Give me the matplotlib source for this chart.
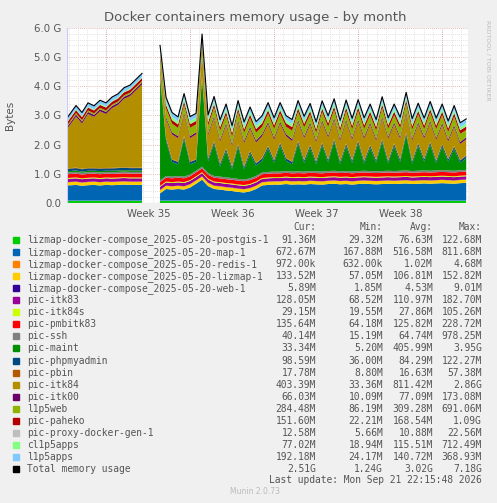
import numpy as np
import matplotlib
matplotlib.use('Agg')
import matplotlib.pyplot as plt

nan = np.nan
# half-day bins, value in G
map1 = [0.52, 0.54, 0.51, 0.53, 0.54, 0.52, 0.54, 0.53, 0.54, 0.55, 0.54, 0.54, 0.54, nan, nan,
        0.25, 0.40, 0.38, 0.40, 0.38, 0.45, 0.58, 0.72, 0.50, 0.40, 0.38, 0.35, 0.33, 0.30, 0.28, 0.32,
        0.40, 0.52, 0.54, 0.55, 0.55, 0.57, 0.55, 0.56, 0.55, 0.57, 0.56, 0.55, 0.57, 0.58, 0.56, 0.57,
        0.55, 0.57, 0.58, 0.57, 0.56, 0.57, 0.58, 0.57, 0.58, 0.59, 0.57, 0.58, 0.59, 0.58, 0.59, 0.60,
        0.59, 0.58, 0.60, 0.61]
maint = [0.04, 0.05, 0.04, 0.05, 0.04, 0.05, 0.04, 0.05, 0.05, 0.05, 0.05, 0.05, 0.05, nan, nan,
         3.50, 1.20, 0.50, 0.40, 1.30, 0.35, 0.30, 3.00, 0.40, 1.10, 0.35, 0.90, 0.30, 1.10, 0.35, 0.85,
         0.35, 0.40, 0.80, 0.30, 0.90, 0.35, 0.25, 0.95, 0.30, 0.80, 0.25, 0.90, 0.30, 1.00, 0.25, 0.85,
         0.30, 0.95, 0.25, 0.80, 0.30, 1.00, 0.25, 0.85, 0.30, 1.20, 0.25, 0.85, 0.30, 0.90, 0.25, 0.80,
         0.30, 0.75, 0.25, 0.40]
itk84 = [1.35, 1.75, 1.55, 1.85, 1.75, 1.95, 1.85, 2.05, 2.15, 2.35, 2.45, 2.65, 2.85, nan, nan,
         0.30, 0.65, 0.85, 0.80, 0.75, 0.80, 0.85, 0.70, 0.80, 0.80, 0.75, 0.80, 0.70, 0.75, 0.80, 0.75,
         0.70, 0.75, 0.75, 0.70, 0.65, 0.75, 0.70, 0.65, 0.75, 0.70, 0.65, 0.70, 0.75, 0.65, 0.70, 0.75,
         0.70, 0.65, 0.75, 0.70, 0.65, 0.70, 0.75, 0.65, 0.70, 0.65, 0.70, 0.65, 0.70, 0.65, 0.70, 0.65,
         0.60, 0.65, 0.55, 0.55]
l1p5web = [0.05] * 13 + [nan, nan] + [0.28, 0.30, 0.30, 0.28, 0.25, 0.29, 0.27, 0.30, 0.25, 0.28,
           0.30, 0.27, 0.25, 0.29, 0.28, 0.30, 0.27, 0.25, 0.28, 0.30, 0.27, 0.25, 0.29, 0.28, 0.30,
           0.27, 0.25, 0.28, 0.30, 0.27, 0.25, 0.29, 0.28, 0.30, 0.27, 0.25, 0.28, 0.30, 0.27, 0.25,
           0.29, 0.28, 0.30, 0.27, 0.25, 0.28, 0.30, 0.27, 0.25, 0.29, 0.28, 0.25]
paheko = [0.10] * 13 + [nan, nan] + [0.12] * 52
cl1p5apps = [0.03] * 13 + [nan, nan] + [0.10] * 52
l1p5apps = [0.12] * 13 + [nan, nan] + [0.15] * 52
small = {  # roughly constant layers, G
    'postgis': 0.08, 'redis': 0.001, 'lizmap': 0.11, 'web': 0.005, 'itk83': 0.11,
    'itk84s': 0.03, 'pmbitk83': 0.13, 'ssh': 0.06, 'phpmyadmin': 0.08, 'pbin': 0.017,
    'itk00': 0.07, 'proxy': 0.01,
}

names = ['lizmap-docker-compose_2025-05-20-postgis-1', 'lizmap-docker-compose_2025-05-20-map-1',
         'lizmap-docker-compose_2025-05-20-redis-1', 'lizmap-docker-compose_2025-05-20-lizmap-1',
         'lizmap-docker-compose_2025-05-20-web-1', 'pic-itk83', 'pic-itk84s', 'pic-pmbitk83', 'pic-ssh',
         'pic-maint', 'pic-phpmyadmin', 'pic-pbin', 'pic-itk84', 'pic-itk00', 'l1p5web', 'pic-paheko',
         'pic-proxy-docker-gen-1', 'cl1p5apps', 'l1p5apps', 'Total memory usage']
colors = ['#00CC00', '#0066B3', '#FF8000', '#FFCC00', '#330099', '#990099', '#CCFF00', '#FF0000',
          '#808080', '#008F00', '#00487D', '#B35A00', '#B38F00', '#6B006B', '#8FB300', '#B30000',
          '#BEBEBE', '#80FF80', '#80C9FF', '#000000']
cur = ['91.36M', '672.67M', '972.00k', '133.52M', '5.89M', '128.05M', '29.15M', '135.64M', '40.14M',
       '33.34M', '98.59M', '17.78M', '403.39M', '66.03M', '284.48M', '151.60M', '12.58M', '77.02M',
       '192.18M', '2.51G']
mins = ['29.32M', '167.88M', '632.00k', '57.05M', '1.85M', '68.52M', '19.55M', '64.18M', '15.19M',
        '5.20M', '36.00M', '8.80M', '33.36M', '10.09M', '86.19M', '22.21M', '5.66M', '18.94M',
        '24.17M', '1.24G']
avgs = ['76.63M', '516.58M', '1.02M', '106.81M', '4.53M', '110.97M', '27.86M', '125.82M', '64.74M',
        '405.99M', '84.29M', '16.63M', '811.42M', '77.09M', '309.28M', '168.54M', '10.88M', '115.51M',
        '140.72M', '3.02G']
maxs = ['122.68M', '811.68M', '4.68M', '152.82M', '9.01M', '182.70M', '105.26M', '228.72M', '978.25M',
        '3.95G', '122.27M', '57.38M', '2.86G', '173.08M', '691.06M', '1.09G', '22.56M', '712.49M',
        '368.93M', '7.18G']

N = len(map1)
mask = np.isnan(np.array(map1))
def c(v):
    a = np.full(N, v, dtype=float)
    a[mask] = nan
    return a
layers = [c(small['postgis']), np.array(map1), c(small['redis']), c(small['lizmap']), c(small['web']),
          c(small['itk83']), c(small['itk84s']), c(small['pmbitk83']), c(small['ssh']), np.array(maint),
          c(small['phpmyadmin']), c(small['pbin']), np.array(itk84), c(small['itk00']),
          np.array(l1p5web), np.array(paheko), c(small['proxy']), np.array(cl1p5apps), np.array(l1p5apps)]
t = np.arange(N) * 0.5 + 0.25
t[0] = 0.0
days_span = 33.4

fig = plt.figure(figsize=(4.97, 5.03), dpi=100, facecolor='#F0F0F0')
ax = fig.add_axes([67/497, 1 - 203/503, 401/497, 175/503], facecolor='white')

# grid
for y in np.arange(0.2, 6.01, 0.2):
    major = abs(y - round(y)) < 1e-6
    ax.axhline(y, color='#E0A0A0' if major else '#D8D8D8', lw=0.6, ls=(0, (1, 1.5)), zorder=0)
for x in np.arange(3.25 - 7, days_span, 7 / 9):
    if x > 0:
        ax.axvline(x, color='#D8D8D8', lw=0.6, ls=(0, (1, 1.5)), zorder=0)
for x in np.arange(3.25, days_span, 7):
    ax.axvline(x, color='#E0A0A0', lw=0.6, ls=(0, (1, 1.5)), zorder=0)

bottom = np.zeros(N)
for vals, col in zip(layers, colors):
    ax.fill_between(t, bottom, bottom + vals, color=col, lw=0, zorder=2)
    bottom = bottom + vals
ax.plot(t, bottom, color='black', lw=0.8, zorder=3)

ax.set_xlim(0, days_span)
ax.set_ylim(0, 6.0)
ax.set_yticks(np.arange(0, 6.1, 1.0))
ax.set_yticklabels(['%.1f G' % v if v else '0.0' for v in np.arange(0, 6.1, 1.0)])
ax.set_xticks([6.83, 13.83, 20.83, 27.83])
ax.set_xticklabels(['Week 35', 'Week 36', 'Week 37', 'Week 38'])
ax.tick_params(labelsize=7.3, colors='#555555', length=0, pad=4)
for s in ax.spines.values():
    s.set_visible(False)
ax.axhline(0, color='#C8C8FF', lw=0.8, zorder=4)
ax.axvline(0, color='#C8C8FF', lw=0.8, zorder=4)

fig.text(255/497, 1 - 18/503, 'Docker containers memory usage - by month', ha='center', va='center',
         fontsize=9.5, color='#555555')
fig.text(10/497, 1 - 115/503, 'Bytes', rotation=90, ha='center', va='center', fontsize=7.5, color='#555555')
fig.text(488/497, 1 - 60/503, 'RRDTOOL / TOBI OETIKER', rotation=270, ha='center', va='center',
         fontsize=4.5, color='#BBBBBB')

mono = 'DejaVu Sans Mono'
fs = 6.9
def row(y, texts):
    for xr, s in zip([316, 383, 433, 482], texts):
        fig.text(xr/497, 1 - y/503, s, ha='right', va='center', fontsize=fs, family=mono, color='#555555')
row(227, ['Cur:', 'Min:', 'Avg:', 'Max:'])
for i, nm in enumerate(names):
    y = 240 + i * 12.05
    fig.patches.append(plt.Rectangle((13/497, 1 - (y + 3)/503), 6/497, 6/503, color=colors[i],
                                     transform=fig.transFigure))
    fig.text(27/497, 1 - y/503, nm, ha='left', va='center', fontsize=fs, family=mono, color='#555555')
    row(y, [cur[i], mins[i], avgs[i], maxs[i]])
fig.text(482/497, 1 - 480/503, 'Last update: Mon Sep 21 22:15:48 2026', ha='right', va='center',
         fontsize=fs, family=mono, color='#555555')
fig.text(255/497, 1 - 492/503, 'Munin 2.0.73', ha='center', va='center', fontsize=5.5, color='#BBBBBB')

fig.savefig('out.png', dpi=100, facecolor=fig.get_facecolor())
